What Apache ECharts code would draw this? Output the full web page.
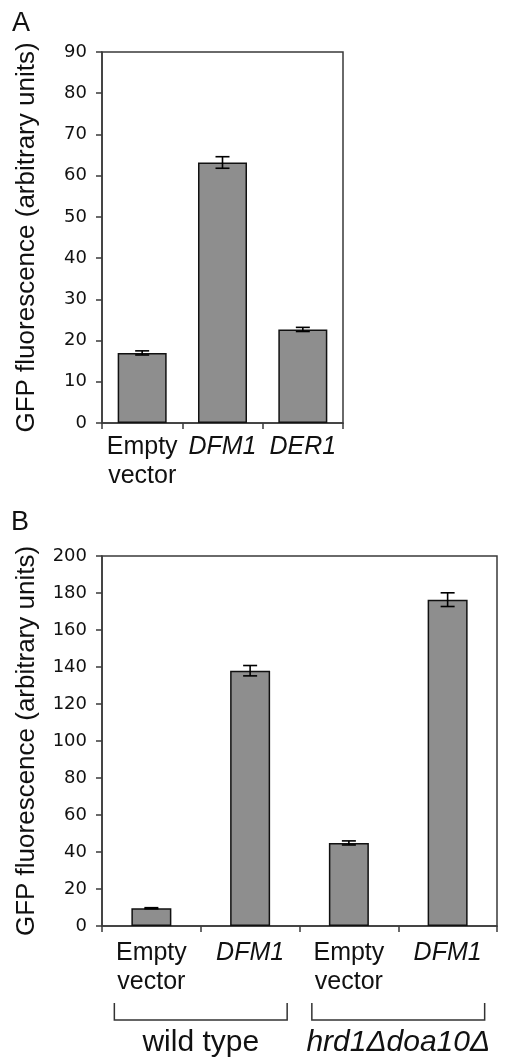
<!DOCTYPE html>
<html>
<head>
<meta charset="utf-8">
<script src="https://cdn.jsdelivr.net/npm/echarts@6/dist/echarts.min.js"></script>
<style>
html,body{margin:0;padding:0;background:#fff;}
#chart{width:508px;height:1057px;}
</style>
</head>
<body>
<div id="chart"></div>
<script>
// ---- Panel A data ----
const categoriesA = ['Empty\nvector', 'DFM1', 'DER1'];
const italicA = [false, true, true];
const valuesA = [17.0, 63.2, 22.7];
const errorsA = [0.5, 1.4, 0.5];
const ticksA = { min: 0, max: 90, interval: 10 };

// ---- Panel B data ----
const categoriesB = ['Empty\nvector', 'DFM1', 'Empty\nvector ', 'DFM1 '];
const italicB = [false, true, false, true];
const valuesB = [9.6, 138.0, 44.9, 176.4];
const errorsB = [0.3, 2.8, 1.1, 3.7];
const ticksB = { min: 0, max: 200, interval: 20 };

// ---- Groups under panel B ----
const groupNames = ['wild type', 'hrd1\u0394doa10\u0394'];
const groupStart = [0, 2];
const groupEnd = [1, 3];
const groupItalic = [false, true];

const yTitle = 'GFP fluorescence (arbitrary units)';
const panelLetters = ['A', 'B'];

const axisColor = '#3a3a3a';
const labelFont = 'Liberation Sans, Arial, sans-serif';
const tickFont = 'DejaVu Sans, Verdana, sans-serif';

function catData(cats, ital) {
  return cats.map((c, i) => ({ value: c, textStyle: { fontStyle: ital[i] ? 'italic' : 'normal' } }));
}

function xAxisCfg(gridIndex, cats, ital, margin) {
  return {
    type: 'category', gridIndex: gridIndex, data: catData(cats, ital),
    axisLine: { show: true, lineStyle: { color: axisColor, width: 1.5 } },
    axisTick: { show: true, length: 6, alignWithLabel: false, lineStyle: { color: axisColor, width: 1.5 } },
    axisLabel: {
      interval: 0, margin: margin, color: '#111', fontFamily: labelFont, fontSize: 25, lineHeight: 29,
      formatter: v => v.trim()
    },
    splitLine: { show: false }
  };
}

function yAxisCfg(gridIndex, t) {
  return {
    type: 'value', gridIndex: gridIndex, min: t.min, max: t.max, interval: t.interval,
    name: yTitle, nameLocation: 'middle', nameGap: 62, nameRotate: 90,
    nameTextStyle: { fontFamily: labelFont, fontSize: 26, color: '#111' },
    axisLine: { show: true, lineStyle: { color: axisColor, width: 1.5 } },
    axisTick: { show: true, length: 6, lineStyle: { color: axisColor, width: 1.5 } },
    axisLabel: { margin: 15, color: '#111', fontFamily: tickFont, fontSize: 18 },
    splitLine: { show: false }
  };
}

function errorRender(params, api) {
  const x = api.value(0), v = api.value(1), e = api.value(2);
  const lo = api.coord([x, v - e]);
  const hi = api.coord([x, v + e]);
  const cap = 7;
  const style = { stroke: '#000', lineWidth: 1.6 };
  return {
    type: 'group',
    children: [
      { type: 'line', shape: { x1: lo[0], y1: lo[1], x2: hi[0], y2: hi[1] }, style: style },
      { type: 'line', shape: { x1: lo[0] - cap, y1: lo[1], x2: lo[0] + cap, y2: lo[1] }, style: style },
      { type: 'line', shape: { x1: hi[0] - cap, y1: hi[1], x2: hi[0] + cap, y2: hi[1] }, style: style }
    ]
  };
}

function bracketRender(params, api) {
  const i = params.dataIndex;
  const s = api.value(0), e = api.value(1);
  const p0 = api.coord([s, 0]);
  const p1 = api.coord([e, 0]);
  const half = api.size([1, 0])[0] / 2;
  const x0 = p0[0] - half * 0.75;
  const x1 = p1[0] + half * 0.75;
  const yA = p0[1] + 77, yB = p0[1] + 94;
  const style = { stroke: '#333', lineWidth: 1.5, fill: 'none' };
  return {
    type: 'group',
    children: [
      { type: 'polyline', shape: { points: [[x0, yA], [x0, yB], [x1, yB], [x1, yA]] }, style: style },
      { type: 'text', x: (x0 + x1) / 2, y: p0[1] + 117,
        style: { text: groupNames[i], font: (groupItalic[i] ? 'italic ' : '') + '30px ' + labelFont,
                 fill: '#111', align: 'center', verticalAlign: 'middle' } }
    ]
  };
}

const chart = echarts.init(document.getElementById('chart'), null, { renderer: 'canvas' });
chart.setOption({
  animation: false,
  backgroundColor: '#fff',
  grid: [
    { left: 102, top: 52, width: 241, height: 371, show: true, borderColor: axisColor, borderWidth: 1.5, backgroundColor: 'transparent' },
    { left: 102, top: 556, width: 395, height: 370, show: true, borderColor: axisColor, borderWidth: 1.5, backgroundColor: 'transparent' }
  ],
  xAxis: [xAxisCfg(0, categoriesA, italicA, 10), xAxisCfg(1, categoriesB, italicB, 13)],
  yAxis: [yAxisCfg(0, ticksA), yAxisCfg(1, ticksB)],
  graphic: [
    { type: 'text', left: 12, top: 10, style: { text: panelLetters[0], font: '27px ' + labelFont, fill: '#111' } },
    { type: 'text', left: 11, top: 509, style: { text: panelLetters[1], font: '27px ' + labelFont, fill: '#111' } }
  ],
  series: [
    { type: 'bar', xAxisIndex: 0, yAxisIndex: 0, data: valuesA, barWidth: '61%',
      itemStyle: { color: '#8e8e8e', borderColor: '#111', borderWidth: 1.5 } },
    { type: 'custom', xAxisIndex: 0, yAxisIndex: 0, renderItem: errorRender, clip: false,
      data: valuesA.map((v, i) => [i, v, errorsA[i]]), encode: { x: 0, y: 1 }, z: 5 },
    { type: 'bar', xAxisIndex: 1, yAxisIndex: 1, data: valuesB, barWidth: '40.5%',
      itemStyle: { color: '#8e8e8e', borderColor: '#111', borderWidth: 1.5 } },
    { type: 'custom', xAxisIndex: 1, yAxisIndex: 1, renderItem: errorRender, clip: false,
      data: valuesB.map((v, i) => [i, v, errorsB[i]]), encode: { x: 0, y: 1 }, z: 5 },
    { type: 'custom', xAxisIndex: 1, yAxisIndex: 1, renderItem: bracketRender, clip: false,
      data: groupNames.map((n, i) => [groupStart[i], groupEnd[i], 0]), encode: { x: [0, 1], y: 2 }, z: 5 }
  ]
});
</script>
</body>
</html>
